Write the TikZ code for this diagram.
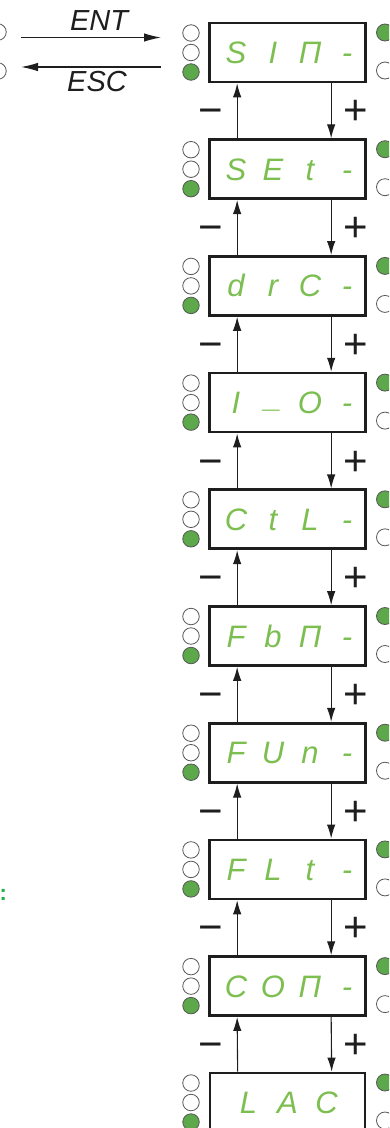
\documentclass[tikz,border=0pt]{standalone}
\usepackage{fontspec}
\setmainfont{Liberation Sans}
\usetikzlibrary{arrows.meta,positioning}
\definecolor{PanelInk}{HTML}{1E1E1E}
\definecolor{PanelLed}{HTML}{5DA84A}
\definecolor{PanelSeg}{HTML}{7CBF50}
\definecolor{PanelNote}{HTML}{1DB04A}
\newcommand{\segcells}[4]{\hspace*{8pt}\makebox[37pt]{#1}\makebox[37pt]{#2}%
  \makebox[37pt]{#3}\makebox[37pt]{#4}}

\begin{document}
\begin{tikzpicture}[x=1pt,y=-1pt,
    menubox/.style={draw=PanelInk,line width=2.7pt,fill=white,
      minimum width=155pt,minimum height=59pt,inner sep=0pt,
      text=PanelSeg,font=\itshape\fontsize{31}{31}\selectfont,
      text height=22pt,text depth=0pt},
    ledoff/.style={circle,draw=PanelInk!75,line width=0.8pt,fill=white,
      minimum size=16.5pt,inner sep=0pt},
    ledon/.style={ledoff,fill=PanelLed},
    navarrow/.style={-{Latex[length=14pt,width=8.5pt]},PanelInk,line width=1.1pt},
    signlabel/.style={text=PanelInk,font=\fontsize{42}{42}\selectfont,
      inner sep=0pt,anchor=base}]
  \useasboundingbox (0,0) rectangle (389,1128);
  \clip (0,0) rectangle (389,1128);

  % ENT / ESC keys
  \node[ledoff] (keya) at (-2,32) {};
  \node[ledoff] (keyb) at (-2,71) {};
  \coordinate (entfrom) at (21,37.5);
  \coordinate (entto) at (161,37.5);
  \coordinate (escfrom) at (161,67);
  \coordinate (escto) at (21,67);
  \draw[navarrow,-{Latex[length=17pt,width=8.5pt]}] (entfrom) -- (entto);
  \draw[navarrow,-{Latex[length=17pt,width=8.5pt]}] (escfrom) -- (escto);
  \node[font=\itshape\fontsize{29}{29}\selectfont,text=PanelInk]
    (ent) at (99,21) {ENT};
  \node[font=\itshape\fontsize{29}{29}\selectfont,text=PanelInk]
    (esc) at (97,82) {ESC};

  % menu displays
  \foreach \ca/\cb/\cc/\cd [count=\i from 0] in
    {S/I/Π/-, S/E/t/-, d/r/C/-, I/\raisebox{6pt}{\_}/O/-, C/t/L/-,
     F/b/Π/-, F/U/n/-, F/L/t/-, C/O/Π/-}{
    \pgfmathsetmacro\midy{52.5+116.7*\i}
    \node[menubox] (b\i) at (287.5,\midy) {\segcells{\ca}{\cb}{\cc}{\cd}};
    \node[ledoff] (la\i) at (191,\midy-19.5) {};
    \node[ledoff] (lb\i) at (191,\midy) {};
    \node[ledon] (lc\i) at (191,\midy+19.5) {};
    \node[ledon,minimum size=17pt] (ra\i) at (385,\midy-20) {};
    \node[ledoff,minimum size=17pt] (rb\i) at (385,\midy+18) {};
  }
  \node[menubox] (b9) at (287.5,1102.5)
    {\makebox[39pt]{L}\makebox[39pt]{A}\makebox[39pt]{C}};
  \node[ledoff] (la9) at (191,1083) {};
  \node[ledoff] (lb9) at (191,1102.5) {};
  \node[ledon] (lc9) at (191,1122) {};
  \node[ledon,minimum size=17pt] (ra9) at (385,1082.5) {};
  \node[ledoff,minimum size=17pt] (rb9) at (385,1120.5) {};

  % + / - steps
  \foreach \i [evaluate=\i as \j using int(\i+1)] in {0,...,8}{
    \pgfmathsetmacro\gapy{52.5+116.7*\i+58.4}
    \draw[navarrow] ([xshift=29pt]b\j.north west) -- ([xshift=29pt]b\i.south west);
    \draw[navarrow] ([xshift=123pt]b\i.south west) -- ([xshift=123pt]b\j.north west);
    \node[signlabel] (mn\i) at (210.5,\gapy+14) {−};
    \node[signlabel] (pl\i) at (355.5,\gapy+14) {+};
  }

  \node[anchor=base west,inner sep=0pt,text=PanelNote,
    font=\bfseries\fontsize{22}{22}\selectfont] (note) at (-0.5,900) {:};
\end{tikzpicture}
\end{document}
